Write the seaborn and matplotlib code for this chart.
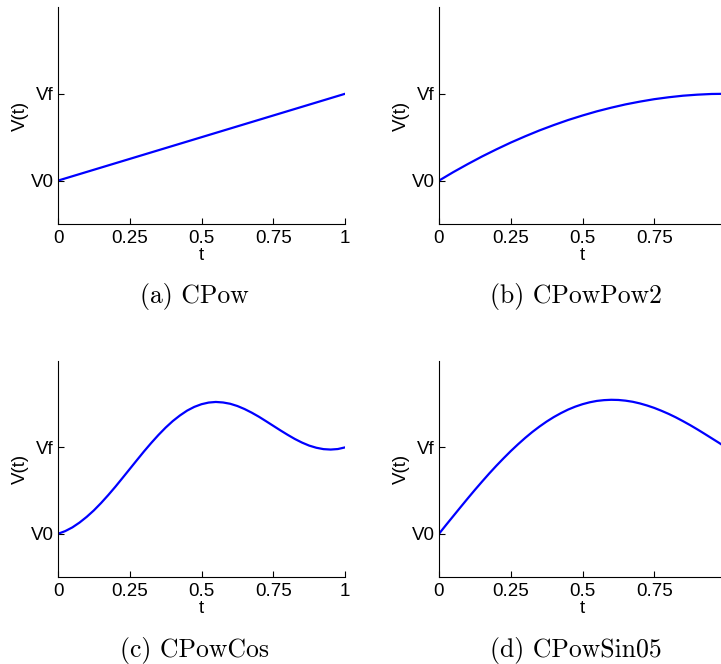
import matplotlib
matplotlib.use("Agg")
import matplotlib.pyplot as plt
import numpy as np
import pandas as pd
import seaborn as sns

# ---- data ----
t = [0.000, 0.025, 0.050, 0.075, 0.100, 0.125, 0.150, 0.175, 0.200, 0.225,
     0.250, 0.275, 0.300, 0.325, 0.350, 0.375, 0.400, 0.425, 0.450, 0.475,
     0.500, 0.525, 0.550, 0.575, 0.600, 0.625, 0.650, 0.675, 0.700, 0.725,
     0.750, 0.775, 0.800, 0.825, 0.850, 0.875, 0.900, 0.925, 0.950, 0.975,
     1.000]

v_cpow = [0.000, 0.025, 0.050, 0.075, 0.100, 0.125, 0.150, 0.175, 0.200, 0.225,
          0.250, 0.275, 0.300, 0.325, 0.350, 0.375, 0.400, 0.425, 0.450, 0.475,
          0.500, 0.525, 0.550, 0.575, 0.600, 0.625, 0.650, 0.675, 0.700, 0.725,
          0.750, 0.775, 0.800, 0.825, 0.850, 0.875, 0.900, 0.925, 0.950, 0.975,
          1.000]

v_cpowpow2 = [0.000, 0.049, 0.098, 0.144, 0.190, 0.234, 0.278, 0.319, 0.360, 0.399,
              0.438, 0.474, 0.510, 0.544, 0.578, 0.609, 0.640, 0.669, 0.698, 0.724,
              0.750, 0.774, 0.798, 0.819, 0.840, 0.859, 0.878, 0.894, 0.910, 0.924,
              0.938, 0.949, 0.960, 0.969, 0.978, 0.984, 0.990, 0.994, 0.998, 0.999,
              1.000]

v_cpowcos = [0.000, 0.031, 0.074, 0.130, 0.196, 0.271, 0.356, 0.448, 0.545, 0.647,
             0.750, 0.853, 0.955, 1.052, 1.144, 1.229, 1.305, 1.370, 1.426, 1.469,
             1.500, 1.519, 1.526, 1.520, 1.505, 1.479, 1.444, 1.402, 1.355, 1.303,
             1.250, 1.197, 1.146, 1.098, 1.056, 1.021, 0.996, 0.980, 0.975, 0.981,
             1.000]

v_cpowsin05 = [0.000, 0.104, 0.206, 0.308, 0.409, 0.508, 0.604, 0.698, 0.788, 0.874,
               0.957, 1.035, 1.109, 1.178, 1.241, 1.299, 1.351, 1.397, 1.438, 1.472,
               1.500, 1.522, 1.538, 1.547, 1.551, 1.549, 1.541, 1.528, 1.509, 1.485,
               1.457, 1.424, 1.388, 1.348, 1.304, 1.258, 1.209, 1.158, 1.106, 1.054,
               1.000]

xtick_vals = [0, 0.25, 0.5, 0.75, 1]
xtick_labels = ["0", "0.25", "0.5", "0.75", "1"]
ytick_vals = [0, 1]
ytick_labels = ["V0", "Vf"]

captions = ["(a) CPow", "(b) CPowPow2", "(c) CPowCos", "(d) CPowSin05"]
series = [v_cpow, v_cpowpow2, v_cpowcos, v_cpowsin05]

# ---- style ----
sns.set_theme(style="white")
plt.rcParams["font.family"] = ["Liberation Sans", "DejaVu Sans"]

W, H = 721, 664
fig = plt.figure(figsize=(W / 100, H / 100), dpi=100)

# axes boxes in pixels: left, top, width, height
boxes = [(58, 7, 287, 217), (439, 7, 287, 217),
         (58, 361, 287, 216), (439, 361, 287, 216)]
cap_pos = [(194, 297), (576, 297), (195, 650), (576, 650)]
# right-hand panels run past the picture's right edge, so their "1" label is not shown
right_cut = [False, True, False, True]

for box, vals, cap, cp, cut in zip(boxes, series, captions, cap_pos, right_cut):
    l, tp, w, h = box
    ax = fig.add_axes([l / W, 1 - (tp + h) / H, w / W, h / H])
    df = pd.DataFrame({"t": t, "V": vals})
    sns.lineplot(data=df, x="t", y="V", ax=ax, color="#0000ff", linewidth=1.6)
    ax.set_xlim(0, 1)
    ax.set_ylim(-0.5, 2.0)
    ax.set_xticks(xtick_vals)
    labels = list(xtick_labels)
    if cut:
        labels[-1] = ""
    ax.set_xticklabels(labels)
    ax.set_yticks(ytick_vals)
    ax.set_yticklabels(ytick_labels)
    ax.tick_params(axis="both", direction="in", length=4, width=0.8,
                   colors="black", labelsize=13.5)
    ax.tick_params(axis="x", pad=4, bottom=True)
    ax.tick_params(axis="y", pad=3, left=True)
    for s in ["top", "right"]:
        ax.spines[s].set_visible(False)
    for s in ["left", "bottom"]:
        ax.spines[s].set_color("black")
        ax.spines[s].set_linewidth(0.8)
    ax.set_xlabel("t", fontsize=13.5, color="black", labelpad=0.5)
    ax.set_ylabel("V(t)", fontsize=13.5, color="black", labelpad=1.5)
    fig.text(cp[0] / W, 1 - cp[1] / H, cap, ha="center", va="center",
             family="cmr10", fontsize=18.5, color="black")

fig.savefig("out.png", dpi=100)
